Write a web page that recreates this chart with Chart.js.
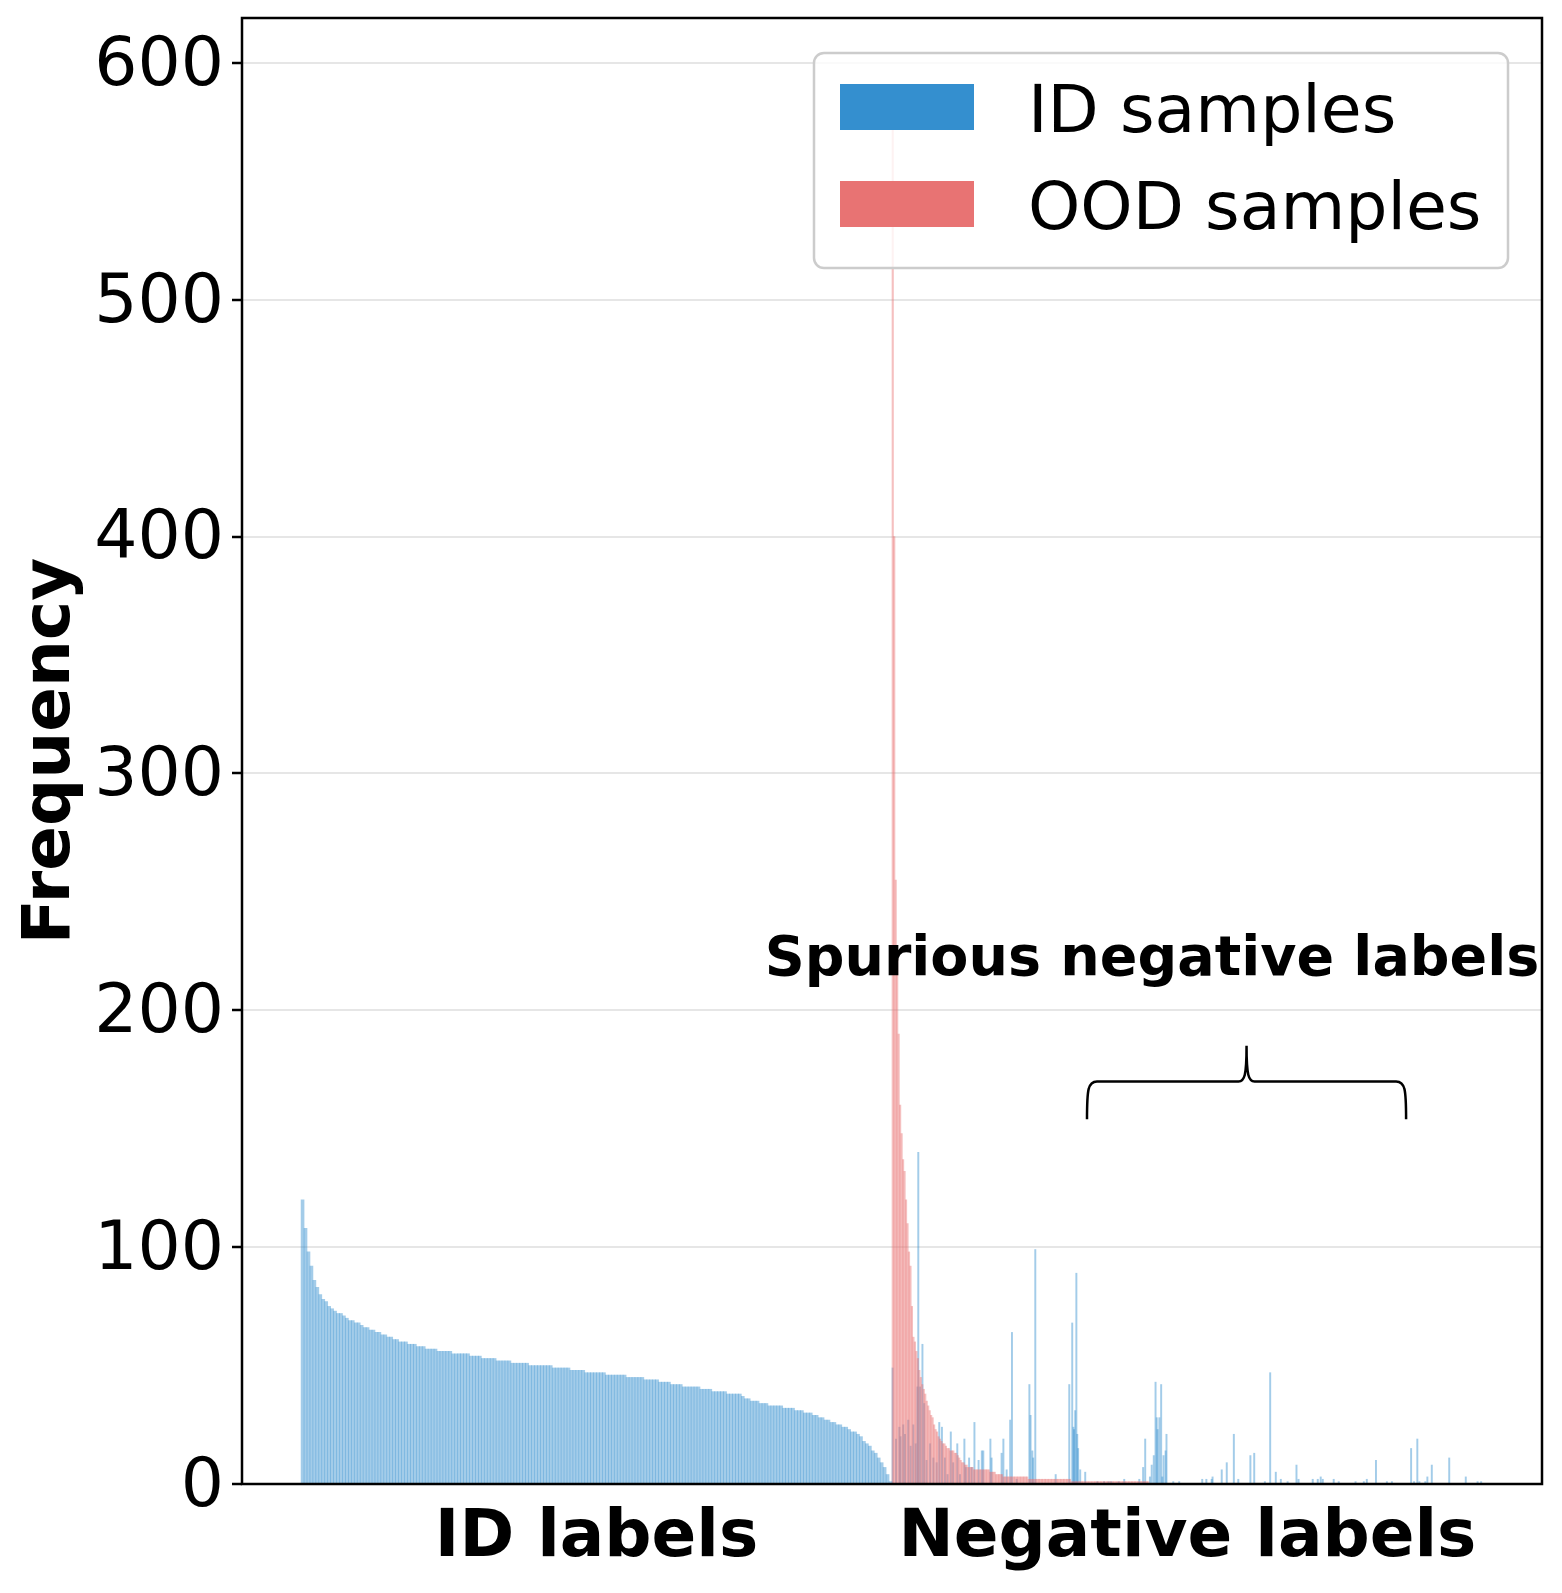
<!DOCTYPE html>
<html>
<head>
<meta charset="utf-8">
<title>Label frequency: ID vs OOD samples</title>
<script src="https://cdn.jsdelivr.net/npm/chart.js@4.4.1/dist/chart.umd.min.js"></script>
<style>
  html, body { margin: 0; padding: 0; background: #fff; }
  canvas { display: block; }
</style>
</head>
<body>
<canvas id="labelChart" width="1562" height="1593"></canvas>
<script>
const seriesNames = ["ID samples", "OOD samples"];
const regionNames = ["ID labels", "Negative labels"];
const yTicks = [0, 100, 200, 300, 400, 500, 600];
const yMax = 619;
const annotationText = "Spurious negative labels";

// ID samples hitting ID labels, sorted (one bin per rank unit)
const idOnIdLabels = [
  120, 108, 98, 92, 86, 83, 80, 78, 77, 75,
  74, 73, 72, 72, 71, 70, 69, 69, 68, 68,
  67, 66, 66, 65, 65, 64, 64, 63, 63, 62,
  62, 61, 61, 60, 60, 60, 59, 59, 59, 58,
  58, 58, 57, 57, 57, 57, 56, 56, 56, 56,
  56, 55, 55, 55, 55, 55, 55, 54, 54, 54,
  54, 53, 53, 53, 53, 53, 52, 52, 52, 52,
  52, 51, 51, 51, 51, 51, 51, 50, 50, 50,
  50, 50, 50, 50, 50, 49, 49, 49, 49, 49,
  49, 48, 48, 48, 48, 48, 47, 47, 47, 47,
  47, 47, 47, 46, 46, 46, 46, 46, 46, 46,
  45, 45, 45, 45, 45, 45, 44, 44, 44, 44,
  44, 43, 43, 43, 43, 42, 42, 42, 42, 41,
  41, 41, 41, 41, 41, 40, 40, 40, 40, 39,
  39, 39, 39, 39, 38, 38, 38, 38, 38, 37,
  36, 36, 35, 35, 35, 34, 34, 34, 33, 33,
  33, 33, 33, 32, 32, 32, 32, 31, 31, 31,
  30, 30, 30, 29, 29, 28, 28, 27, 27, 26,
  26, 25, 25, 24, 24, 23, 22, 22, 21, 20,
  18, 17, 16, 14, 13, 11, 9, 7, 4, 1
];

// OOD samples hitting negative labels (half rank unit per bin)
const oodOnNegLabels = [
  590, 400, 255, 225, 190, 160, 148, 137, 132, 120,
  110, 98, 92, 75, 62, 60, 56, 53, 48, 45,
  42, 40, 38, 35, 33, 31, 29, 28, 25, 23,
  22, 20, 19, 18, 17, 17, 16, 15, 15, 14,
  14, 14, 13, 13, 12, 11, 10, 9, 9, 8,
  8, 7, 7, 7, 7, 6, 6, 6, 6, 6,
  6, 6, 6, 6, 6, 6, 5, 5, 5, 5,
  4, 4, 4, 4, 4, 3, 3, 3, 3, 3,
  3, 3, 3, 3, 3, 3, 3, 3, 3, 3,
  3, 3, 2, 2, 2, 2, 2, 2, 2, 2,
  2, 2, 2, 2, 2, 2, 2, 2, 2, 2,
  2, 2, 2, 2, 2, 2, 2, 2, 2, 2,
  2, 1, 1, 1, 1, 1, 1, 1, 1, 1,
  1, 1, 1, 1, 1, 1, 1, 1, 1, 1,
  1, 1, 1, 1, 1, 1, 1, 1, 1, 1,
  1, 1, 1, 1, 1, 1, 1, 1, 1, 1,
  1, 1, 1, 1, 1, 1, 1, 1, 1, 1,
  1, 1, 1, 1
];

// ID samples hitting negative labels (sparse spikes): rank and count
const idNegRank = [
  0.2, 1.35, 2.5, 2.9, 3.8, 4.4, 5.5, 6.3, 7.2, 8.0,
  8.6, 8.9, 9.5, 10.3, 10.9, 11.7, 12.9, 14.0, 15.1, 16.0,
  16.9, 17.9, 18.8, 19.9, 20.7, 22.1, 23.0, 24.5, 25.0, 26.1,
  27.0, 27.9, 29.3, 30.4, 30.9, 33.3, 33.7, 37.1, 37.7, 38.8,
  40.0, 40.6, 42.2, 46.5, 46.9, 47.5, 47.8, 48.5, 55.4, 60.0,
  61.0, 61.4, 61.6, 62.0, 62.4, 62.7, 63.0, 63.7, 65.4, 69.5,
  71.8, 73.3, 74.2, 76.7, 78.6, 83.7, 85.0, 85.7, 87.3, 87.9,
  88.6, 89.2, 89.6, 89.9, 90.5, 91.1, 91.5, 91.9, 92.6, 92.9,
  95.2, 97.2, 105.0, 106.4, 108.2, 108.5, 111.6, 113.3, 115.7, 117.2,
  121.3, 122.6, 126.2, 128.0, 129.9, 131.6, 133.9, 136.9, 137.6, 142.4,
  144.1, 145.1, 145.8, 149.5, 151.2, 156.9, 159.7, 160.7, 163.8, 167.5,
  169.2, 175.7, 176.7, 177.8, 178.5, 180.5, 181.2, 182.7, 188.6, 194.2,
  198.2, 199.4
];
const idNegCount = [
  49, 19, 24, 20, 25, 21, 27, 16, 25, 17,
  41, 140, 41, 59, 34, 10, 17, 11, 9, 26,
  24, 11, 4, 22, 9, 17, 4, 19, 7, 11,
  7, 26, 10, 14, 14, 19, 11, 13, 19, 6,
  27, 64, 2, 42, 29, 14, 11, 99, 4, 42,
  68, 24, 23, 31, 89, 21, 15, 6, 5, 1,
  1, 1, 1, 1, 2, 2, 7, 19, 3, 8,
  12, 43, 28, 23, 28, 42, 3, 12, 14, 21,
  1, 1, 2, 2, 2, 3, 6, 9, 21, 2,
  12, 13, 1, 47, 5, 2, 1, 8, 2, 2,
  2, 3, 2, 2, 1, 1, 1, 2, 10, 1,
  1, 15, 1, 19, 1, 1, 3, 8, 11, 3,
  1, 1
];

// brace under the annotation, in negative-label rank / frequency units
const braceRanks = [66, 120, 174];
const braceLevels = [154, 170, 185];
const annotationPos = [88, 215];

const idColor = "rgb(52, 143, 207)";
const oodColor = "rgb(232, 115, 115)";
const idFill = "rgba(52, 143, 207, 0.45)";
const oodFill = "rgba(232, 115, 115, 0.45)";
const fontFamily = '"DejaVu Sans", "Liberation Sans", sans-serif';

const nId = idOnIdLabels.length;
const negWidth = 200;
const negStart = nId - 0.5;
const margin = 0.05 * (nId + negWidth);

const idBars = idOnIdLabels.map((v, i) => ({ x: i, y: v }));
const oodBars = oodOnNegLabels.map((v, k) => ({ x: negStart + 0.25 + 0.5 * k, y: v }));
const idSpikes = idNegRank.map((r, j) => ({ x: negStart + r, y: idNegCount[j] }));

Chart.defaults.font.family = fontFamily;
Chart.defaults.color = "#000";

// drop the label overhang chart.js reserves around the axes
function noOverhang(s) {
  s.paddingTop = 0;
  s.paddingBottom = 0;
  s.paddingLeft = 0;
  s.paddingRight = 0;
}

const overlay = {
  id: "overlay",
  afterDatasetsDraw(chart) {
    const { ctx, chartArea: a, scales } = chart;
    const xs = scales.x, ys = scales.y;
    ctx.save();
    // axes box
    ctx.strokeStyle = "#000";
    ctx.lineWidth = 2.5;
    ctx.strokeRect(a.left, a.top, a.right - a.left, a.bottom - a.top);

    // annotation text
    ctx.fillStyle = "#000";
    ctx.font = "bold 55.5px " + fontFamily;
    ctx.textAlign = "center";
    ctx.textBaseline = "alphabetic";
    ctx.fillText(annotationText, xs.getPixelForValue(negStart + annotationPos[0]), ys.getPixelForValue(annotationPos[1]));

    // curly brace
    const xl = xs.getPixelForValue(negStart + braceRanks[0]);
    const xm = xs.getPixelForValue(negStart + braceRanks[1]);
    const xr = xs.getPixelForValue(negStart + braceRanks[2]);
    const yEnd = ys.getPixelForValue(braceLevels[0]);
    const yBar = ys.getPixelForValue(braceLevels[1]);
    const yTip = ys.getPixelForValue(braceLevels[2]);
    ctx.beginPath();
    ctx.moveTo(xl, yEnd);
    ctx.bezierCurveTo(xl, yBar + 8, xl + 1, yBar, xl + 10, yBar);
    ctx.lineTo(xm - 8, yBar);
    ctx.bezierCurveTo(xm - 2, yBar, xm, yBar - 6, xm, yTip);
    ctx.bezierCurveTo(xm, yBar - 6, xm + 2, yBar, xm + 8, yBar);
    ctx.lineTo(xr - 10, yBar);
    ctx.bezierCurveTo(xr - 1, yBar, xr, yBar + 8, xr, yEnd);
    ctx.lineWidth = 2.5;
    ctx.stroke();
    ctx.restore();
  },
  afterDraw(chart) {
    const { ctx, chartArea: a } = chart;
    const w = 694, h = 215;
    const x0 = a.right - 34 - w, y0 = a.top + 35;
    const swatches = [idColor, oodColor];
    ctx.save();
    ctx.beginPath();
    ctx.roundRect(x0, y0, w, h, 10);
    ctx.fillStyle = "rgba(255, 255, 255, 0.8)";
    ctx.fill();
    ctx.strokeStyle = "#cccccc";
    ctx.lineWidth = 2.5;
    ctx.stroke();
    seriesNames.forEach((name, i) => {
      const cy = y0 + 54 + i * 97;
      ctx.fillStyle = swatches[i];
      ctx.fillRect(x0 + 26, cy - 23, 134, 46);
      ctx.fillStyle = "#000";
      ctx.font = "66.5px " + fontFamily;
      ctx.textAlign = "left";
      ctx.textBaseline = "alphabetic";
      ctx.fillText(name, x0 + 214, cy + 25);
    });
    ctx.restore();
  }
};

new Chart(document.getElementById("labelChart"), {
  type: "bar",
  data: {
    datasets: [
      { label: seriesNames[0], data: idBars, backgroundColor: idFill, barThickness: 3, grouped: false, order: 2 },
      { label: seriesNames[0], data: idSpikes, backgroundColor: idFill, barThickness: 1.3, grouped: false, order: 3 },
      { label: seriesNames[1], data: oodBars, backgroundColor: oodFill, barThickness: 1.5, grouped: false, order: 1 }
    ]
  },
  options: {
    responsive: false,
    devicePixelRatio: 1,
    animation: false,
    layout: { padding: { left: 0, right: 20, top: 18, bottom: 0 } },
    plugins: { legend: { display: false }, tooltip: { enabled: false } },
    scales: {
      x: {
        type: "linear",
        offset: false,
        min: -0.5 - margin,
        max: nId + negWidth - 0.5 + margin,
        grid: { display: false, offset: false },
        border: { display: false },
        afterBuildTicks: s => { s.ticks = [{ value: (nId - 1) / 2 }, { value: negStart + negWidth / 2 }]; },
        afterFit: s => { s.height = 109; noOverhang(s); },
        ticks: {
          autoSkip: false,
          maxRotation: 0,
          padding: 7,
          font: { size: 66, weight: "bold" },
          callback: (v, i) => regionNames[i]
        }
      },
      y: {
        min: 0,
        max: yMax,
        afterBuildTicks: s => { s.ticks = yTicks.map(v => ({ value: v })); },
        afterFit: s => { s.width = 242; noOverhang(s); },
        grid: { color: "#e6e6e6", lineWidth: 2, tickLength: 10, tickColor: "#000", tickWidth: 2.5 },
        border: { display: false },
        ticks: { padding: 8, labelOffset: 4, font: { size: 68 } },
        title: {
          display: true,
          text: "Frequency",
          font: { size: 66, weight: "bold" },
          padding: { top: 12, bottom: 0 }
        }
      }
    }
  },
  plugins: [overlay]
});
</script>
</body>
</html>
